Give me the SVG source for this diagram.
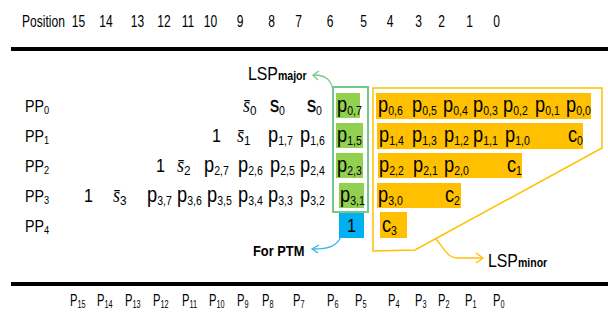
<svg xmlns="http://www.w3.org/2000/svg" width="608" height="321" viewBox="0 0 608 321">
  <style>
    text { font-family: "Liberation Sans", Arial, sans-serif; fill: #000;
           transform-box: fill-box; transform-origin: 0% 50%; }
    .mid { text-anchor: middle; transform-origin: 50% 50%; }
    .hdr { font-size: 17px; transform: scaleX(.71); }
    .pp { font-size: 17px; transform: scaleX(.84); }
    .pps { font-size: 11px; }
    .t { font-size: 22.5px; transform: scaleX(.81); }
    .ts { font-size: 13px; stroke: none; }
    .s0 { stroke: #000; stroke-width: .35; }
    .one { font-size: 19px; transform: scaleX(.85); }
    .sb { font-family: "Liberation Serif", "DejaVu Serif", serif; font-style: italic; font-size: 20px; transform: scaleX(.9); }
    .sbs { font-family: "Liberation Sans", Arial, sans-serif; font-style: normal; font-size: 13px; }
    .bot { font-size: 16px; transform: scaleX(.7); }
    .bots { font-size: 10.5px; }
    .lsp { font-size: 18px; transform: scaleX(.88); }
    .lsps { font-size: 12px; font-weight: bold; }
    .ptm { font-size: 14px; font-weight: bold; transform: scaleX(.92); }
    .rule { stroke: #000; stroke-width: 4; }
    .org { fill: #ffc000; }
    .grn { fill: #92d050; }
    .blu { fill: #00b0f0; }
  </style>

  <!-- bit positions -->
  <g id="header">
    <text class="hdr" x="22" y="27">Position</text>
    <text class="hdr mid" x="78.5" y="27">15</text><text class="hdr mid" x="106" y="27">14</text>
    <text class="hdr mid" x="137.5" y="27">13</text><text class="hdr mid" x="164" y="27">12</text>
    <text class="hdr mid" x="188" y="27">11</text><text class="hdr mid" x="210.5" y="27">10</text>
    <text class="hdr mid" x="240" y="27">9</text><text class="hdr mid" x="271.5" y="27">8</text>
    <text class="hdr mid" x="298.5" y="27">7</text><text class="hdr mid" x="330" y="27">6</text>
    <text class="hdr mid" x="363.5" y="27">5</text><text class="hdr mid" x="390" y="27">4</text>
    <text class="hdr mid" x="418.5" y="27">3</text><text class="hdr mid" x="441.5" y="27">2</text>
    <text class="hdr mid" x="469.5" y="27">1</text><text class="hdr mid" x="496.5" y="27">0</text>
  </g>
  <line class="rule" x1="11" y1="49" x2="608" y2="49"/>
  <line class="rule" x1="11" y1="284" x2="608" y2="284"/>

  <!-- row labels -->
  <g id="pp-labels">
    <text class="pp" x="25" y="112">PP<tspan class="pps" dy="2">0</tspan></text>
    <text class="pp" x="25" y="142">PP<tspan class="pps" dy="2">1</tspan></text>
    <text class="pp" x="25" y="172">PP<tspan class="pps" dy="2">2</tspan></text>
    <text class="pp" x="25" y="202">PP<tspan class="pps" dy="2">3</tspan></text>
    <text class="pp" x="25" y="232">PP<tspan class="pps" dy="2">4</tspan></text>
  </g>

  <!-- cell backgrounds -->
  <g id="lsp-minor-cells">
    <rect class="org" x="376" y="93" width="215" height="26"/>
    <rect class="org" x="377" y="123" width="206" height="26"/>
    <rect class="org" x="378" y="153" width="144" height="25"/>
    <rect class="org" x="377" y="183" width="84" height="25"/>
    <rect class="org" x="380" y="212" width="27" height="26"/>
  </g>
  <g id="lsp-major-cells">
    <rect class="grn" x="336" y="93" width="24" height="25"/>
    <rect class="grn" x="336" y="123" width="27" height="25"/>
    <rect class="grn" x="336" y="153" width="27" height="25"/>
    <rect class="grn" x="339" y="183" width="25" height="25"/>
  </g>
  <g id="ptm-cell">
    <rect class="blu" x="339" y="212" width="25" height="26"/>
    <text class="one mid" x="351.5" y="232">1</text>
  </g>

  <!-- group outlines -->
  <g id="outlines" fill="none">
    <rect x="333" y="87" width="35" height="125" stroke="#74c98a" stroke-width="2"/>
    <polygon points="373,88 602,88 602,148 415,250 373,251" stroke="#ffc000" stroke-width="1.5"/>
  </g>

  <!-- PP0 -->
  <g id="pp0">
    <text class="sb" x="243" y="112">s&#772;<tspan class="sbs" dy="3">0</tspan></text>
    <text class="t s0" x="270" y="112">s<tspan class="ts" dy="3">0</tspan></text>
    <text class="t s0" x="307" y="112">s<tspan class="ts" dy="3">0</tspan></text>
    <text class="t" x="337" y="112">p<tspan class="ts" dy="3">0,7</tspan></text>
    <text class="t" x="378" y="112">p<tspan class="ts" dy="3">0,6</tspan></text>
    <text class="t" x="412" y="112">p<tspan class="ts" dy="3">0,5</tspan></text>
    <text class="t" x="443" y="112">p<tspan class="ts" dy="3">0,4</tspan></text>
    <text class="t" x="473" y="112">p<tspan class="ts" dy="3">0,3</tspan></text>
    <text class="t" x="503" y="112">p<tspan class="ts" dy="3">0,2</tspan></text>
    <text class="t" x="535" y="112">p<tspan class="ts" dy="3">0,1</tspan></text>
    <text class="t" x="566" y="112">p<tspan class="ts" dy="3">0,0</tspan></text>
  </g>

  <!-- PP1 -->
  <g id="pp1">
    <text class="one" x="212" y="142">1</text>
    <text class="sb" x="237" y="142">s&#772;<tspan class="sbs" dy="3">1</tspan></text>
    <text class="t" x="268" y="142">p<tspan class="ts" dy="3">1,7</tspan></text>
    <text class="t" x="300" y="142">p<tspan class="ts" dy="3">1,6</tspan></text>
    <text class="t" x="337" y="142">p<tspan class="ts" dy="3">1,5</tspan></text>
    <text class="t" x="379" y="142">p<tspan class="ts" dy="3">1,4</tspan></text>
    <text class="t" x="412" y="142">p<tspan class="ts" dy="3">1,3</tspan></text>
    <text class="t" x="444" y="142">p<tspan class="ts" dy="3">1,2</tspan></text>
    <text class="t" x="473" y="142">p<tspan class="ts" dy="3">1,1</tspan></text>
    <text class="t" x="505" y="142">p<tspan class="ts" dy="3">1,0</tspan></text>
    <text class="t" x="568" y="142">c<tspan class="ts" dy="3">0</tspan></text>
  </g>

  <!-- PP2 -->
  <g id="pp2">
    <text class="one" x="156" y="172">1</text>
    <text class="sb" x="177" y="172">s&#772;<tspan class="sbs" dy="3">2</tspan></text>
    <text class="t" x="204" y="172">p<tspan class="ts" dy="3">2,7</tspan></text>
    <text class="t" x="238" y="172">p<tspan class="ts" dy="3">2,6</tspan></text>
    <text class="t" x="270" y="172">p<tspan class="ts" dy="3">2,5</tspan></text>
    <text class="t" x="300" y="172">p<tspan class="ts" dy="3">2,4</tspan></text>
    <text class="t" x="337" y="172">p<tspan class="ts" dy="3">2,3</tspan></text>
    <text class="t" x="379" y="172">p<tspan class="ts" dy="3">2,2</tspan></text>
    <text class="t" x="413" y="172">p<tspan class="ts" dy="3">2,1</tspan></text>
    <text class="t" x="444" y="172">p<tspan class="ts" dy="3">2,0</tspan></text>
    <text class="t" x="507" y="172">c<tspan class="ts" dy="3">1</tspan></text>
  </g>

  <!-- PP3 -->
  <g id="pp3">
    <text class="one" x="84" y="202">1</text>
    <text class="sb" x="113" y="202">s&#772;<tspan class="sbs" dy="3">3</tspan></text>
    <text class="t" x="147" y="202">p<tspan class="ts" dy="3">3,7</tspan></text>
    <text class="t" x="177" y="202">p<tspan class="ts" dy="3">3,6</tspan></text>
    <text class="t" x="207" y="202">p<tspan class="ts" dy="3">3,5</tspan></text>
    <text class="t" x="238" y="202">p<tspan class="ts" dy="3">3,4</tspan></text>
    <text class="t" x="268" y="202">p<tspan class="ts" dy="3">3,3</tspan></text>
    <text class="t" x="300" y="202">p<tspan class="ts" dy="3">3,2</tspan></text>
    <text class="t" x="340" y="202">p<tspan class="ts" dy="3">3,1</tspan></text>
    <text class="t" x="378" y="202">p<tspan class="ts" dy="3">3,0</tspan></text>
    <text class="t" x="445" y="202">c<tspan class="ts" dy="3">2</tspan></text>
  </g>

  <!-- PP4 -->
  <g id="pp4">
    <text class="t" x="382" y="232">c<tspan class="ts" dy="3">3</tspan></text>
  </g>

  <!-- callouts -->
  <g id="connectors" fill="none" stroke-width="1.3">
    <path d="M333,90 C331,80 326,75 314,75" stroke="#74c98a"/>
    <path d="M319,71 L313,75 L318,80" stroke="#74c98a"/>
    <path d="M341,237 C336,246 330,249 313,249" stroke="#3ab4ea"/>
    <path d="M319,245 L312,249 L318,253" stroke="#3ab4ea"/>
    <path d="M436,239 C445,250 448,258 458,258 L482,258" stroke="#ffc000"/>
    <path d="M476,253 L483,258 L476,263" stroke="#ffc000"/>
  </g>

  <g id="lsp-major-label">
    <text class="lsp" x="248" y="80">LSP<tspan class="lsps">major</tspan></text>
  </g>
  <g id="ptm-label">
    <text class="ptm" x="253" y="256">For PTM</text>
  </g>
  <g id="lsp-minor-label">
    <text class="lsp" x="488" y="267">LSP<tspan class="lsps">minor</tspan></text>
  </g>

  <!-- product bits -->
  <g id="footer">
    <text class="bot" x="70" y="306">P<tspan class="bots" dy="2">15</tspan></text>
    <text class="bot" x="97" y="306">P<tspan class="bots" dy="2">14</tspan></text>
    <text class="bot" x="125" y="306">P<tspan class="bots" dy="2">13</tspan></text>
    <text class="bot" x="153" y="306">P<tspan class="bots" dy="2">12</tspan></text>
    <text class="bot" x="182" y="306">P<tspan class="bots" dy="2">11</tspan></text>
    <text class="bot" x="209" y="306">P<tspan class="bots" dy="2">10</tspan></text>
    <text class="bot" x="237" y="306">P<tspan class="bots" dy="2">9</tspan></text>
    <text class="bot" x="262" y="306">P<tspan class="bots" dy="2">8</tspan></text>
    <text class="bot" x="293" y="306">P<tspan class="bots" dy="2">7</tspan></text>
    <text class="bot" x="327" y="306">P<tspan class="bots" dy="2">6</tspan></text>
    <text class="bot" x="355" y="306">P<tspan class="bots" dy="2">5</tspan></text>
    <text class="bot" x="388" y="306">P<tspan class="bots" dy="2">4</tspan></text>
    <text class="bot" x="415" y="306">P<tspan class="bots" dy="2">3</tspan></text>
    <text class="bot" x="438" y="306">P<tspan class="bots" dy="2">2</tspan></text>
    <text class="bot" x="465" y="306">P<tspan class="bots" dy="2">1</tspan></text>
    <text class="bot" x="493" y="306">P<tspan class="bots" dy="2">0</tspan></text>
  </g>
</svg>
